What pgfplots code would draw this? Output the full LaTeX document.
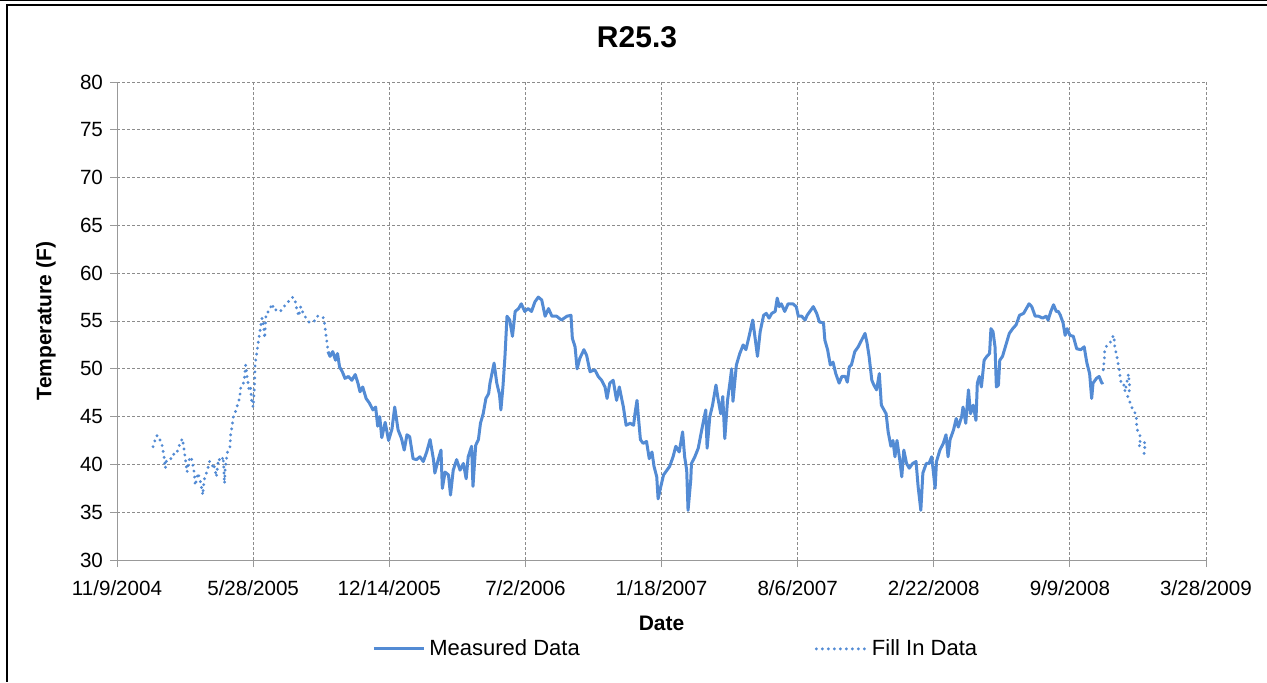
\documentclass[border=0pt]{standalone}
\usepackage{pgfplots}
\pgfplotsset{compat=1.18}
\usepackage{fontspec}
\setmainfont{Liberation Sans}
\definecolor{series}{RGB}{83,139,212}
\definecolor{gridgray}{RGB}{140,140,140}

\begin{document}
\begin{tikzpicture}
\path[use as bounding box] (0,0) rectangle (633.5pt,341pt);
% outer frame (top and left edges only)
\draw[line width=0.6pt] (0,340.7pt) -- (633.5pt,340.7pt);
\draw[line width=1.1pt] (3pt,338.3pt) -- (633.5pt,338.3pt);
\draw[line width=1.1pt] (3.6pt,338.8pt) -- (3.6pt,0);
\node[font=\fontsize{15}{18}\bfseries\selectfont] at (318.5pt,322.5pt) {R25.3};

\begin{axis}[
  at={(58.5pt,61pt)}, anchor=south west,
  scale only axis, width=544.5pt, height=239pt,
  xmin=0, xmax=1600, ymin=30, ymax=80,
  xtick={0,200,...,1600},
  xticklabels={11/9/2004,5/28/2005,12/14/2005,7/2/2006,1/18/2007,8/6/2007,2/22/2008,9/9/2008,3/28/2009},
  ytick={30,35,...,80},
  /pgf/number format/assume math mode=true,
  axis x line*=bottom, axis y line*=left,
  axis line style={gray!80, line width=0.5pt, -},
  tick align=outside, major tick length=3.5pt,
  tick style={gray!80, line width=0.5pt},
  grid=major,
  grid style={gridgray, line width=0.5pt, dash pattern=on 1.5pt off 1pt},
  tick label style={font=\fontsize{10.3}{12}\selectfont},
  xticklabel style={yshift=-3pt},
  xlabel={Date}, ylabel={Temperature (F)},
  xlabel style={font=\fontsize{10.5}{12}\bfseries\selectfont, at={(axis description cs:0.5,-0.132)}, anchor=center},
  ylabel style={font=\fontsize{10.5}{12}\bfseries\selectfont, at={(axis description cs:-0.0652,0.5)}, anchor=center},
  legend columns=2,
  legend style={at={(axis description cs:0.514,-0.186)}, anchor=center, draw=none, fill=none,
    font=\fontsize{11}{13}\selectfont,
    /tikz/every even column/.append style={column sep=115.5pt}},
  legend image code/.code={\draw[#1] (0pt,0pt) -- (25pt,0pt);},
]
% measured data
\addplot[series, line width=1.5pt, line join=round] coordinates {
(310,51.8) (313,51.3) (317,51.8) (321,50.9) (324,51.6) (327,50.2) (331,49.7) (335,49.0)
(340,49.2) (345,48.8) (350,49.4) (354,48.5) (357,47.6) (361,48.1) (366,46.9) (371,46.4)
(376,45.7) (380,46.0) (383,44.0) (386,45.0) (389,42.8) (394,44.4) (399,42.5) (404,43.7)
(408,46.0) (413,43.6) (418,42.7) (422,41.5) (426,43.1) (430,42.9) (435,40.6) (440,40.5)
(445,40.8) (450,40.3) (455,41.3) (460,42.6) (465,40.5) (467,39.1) (472,40.5) (476,41.5)
(478,37.5) (482,39.2) (487,38.9) (490,36.8) (494,39.4) (499,40.5) (504,39.4) (509,40.1)
(513,38.5) (516,40.8) (521,41.9) (523,37.7) (527,42.0) (531,42.6) (534,44.3) (538,45.3)
(542,46.9) (546,47.4) (548,48.5) (552,49.9) (554,50.6) (558,48.5) (562,47.3) (564,45.7)
(567,48.1) (570,51.3) (573,55.5) (577,55.1) (581,53.4) (585,56.0) (590,56.3) (594,56.8)
(599,56.0) (604,56.3) (609,56.0) (614,57.0) (619,57.5) (624,57.2) (629,55.5) (634,56.3)
(639,55.5) (646,55.5) (653,55.1) (661,55.5) (667,55.6) (669,53.2) (673,52.3) (676,50.0)
(680,51.1) (686,52.0) (690,51.4) (695,49.7) (702,49.9) (707,49.2) (712,48.8) (717,48.1)
(720,46.9) (724,48.5) (729,48.8) (734,46.7) (738,48.1) (744,46.0) (748,44.1) (754,44.3)
(759,44.1) (761,45.3) (764,46.7) (766,45.0) (769,42.6) (773,42.2) (778,42.4) (782,40.6)
(786,41.3) (789,39.8) (793,38.7) (795,36.4) (799,37.7) (803,38.9) (808,39.4) (812,39.8)
(817,40.8) (821,41.9) (826,41.3) (831,43.4) (834,40.8) (837,39.4) (839,35.2) (843,38.4)
(844,40.1) (849,40.8) (854,41.7) (858,43.2) (861,44.3) (865,45.7) (867,41.7) (871,45.0)
(875,46.2) (880,48.3) (883,46.9) (887,45.3) (890,47.1) (893,42.7) (897,46.7) (901,48.8)
(903,50.0) (905,46.6) (910,50.4) (915,51.6) (920,52.5) (924,52.0) (929,53.5) (934,55.1)
(937,53.5) (941,51.3) (945,53.9) (950,55.6) (954,55.8) (958,55.3) (962,55.8) (967,56.0)
(970,57.4) (973,56.5) (976,56.8) (981,56.0) (986,56.8) (993,56.8) (998,56.5) (1001,55.5)
(1006,55.5) (1011,55.1) (1014,55.6) (1018,56.0) (1023,56.5) (1028,55.8) (1032,54.9) (1038,54.8)
(1040,53.0) (1044,52.0) (1048,50.4) (1052,50.7) (1056,49.5) (1061,48.5) (1065,49.2) (1070,49.2)
(1073,48.6) (1076,50.2) (1079,50.4) (1084,51.8) (1089,52.3) (1094,53.0) (1099,53.7) (1102,52.7)
(1105,51.3) (1109,48.8) (1112,48.3) (1116,47.8) (1120,49.5) (1123,46.2) (1130,45.3) (1133,43.4)
(1137,41.9) (1140,42.5) (1143,40.8) (1146,42.5) (1150,40.5) (1153,38.7) (1156,41.5) (1160,40.1)
(1164,39.6) (1169,40.1) (1174,40.3) (1177,37.7) (1181,35.2) (1184,39.1) (1189,40.1) (1193,40.1)
(1197,40.8) (1202,37.5) (1204,40.3) (1209,41.5) (1214,42.2) (1218,43.1) (1221,40.8) (1224,42.6)
(1229,43.6) (1233,44.8) (1236,43.9) (1241,45.0) (1243,46.0) (1247,44.3) (1251,47.8) (1254,45.3)
(1258,46.2) (1262,44.6) (1264,48.5) (1267,49.2) (1270,48.1) (1274,50.9) (1278,51.3) (1282,51.6)
(1284,54.2) (1287,53.9) (1290,52.3) (1292,48.1) (1295,48.3) (1297,50.9) (1301,51.3) (1306,52.5)
(1311,53.7) (1316,54.2) (1321,54.6) (1326,55.6) (1332,55.8) (1336,56.3) (1340,56.8) (1344,56.5)
(1349,55.5) (1354,55.5) (1360,55.3) (1365,55.5) (1368,55.1) (1372,56.0) (1376,56.7) (1380,56.0)
(1383,56.0) (1386,55.6) (1390,54.8) (1393,53.5) (1396,54.2) (1400,53.5) (1405,53.4) (1410,52.1)
(1416,52.0) (1421,52.3) (1425,50.6) (1429,49.5) (1432,46.9) (1434,48.5) (1439,49.0) (1443,49.2)
(1447,48.5) (1449,48.6)
};
\addlegendentry{Measured Data}
% fill-in data, first stretch
\addplot[series, line width=1.6pt, line cap=round, dash pattern=on 0pt off 3pt] coordinates {
(53,41.85) (58,43.0) (61,43.0) (64,42.4) (66,42.1) (69,40.9) (71,39.6) (73,40.5)
(77,40.6) (81,40.6) (84,41.2) (88,41.2) (92,42.1) (96,42.7) (98,41.85) (100,40.8)
(103,39.2) (107,40.8) (110,40.5) (113,39.4) (115,37.8) (119,39.1) (122,38.4) (125,37.3)
(126,36.8) (128,38.4) (132,39.2) (136,40.3) (140,39.8) (142,40.1) (146,38.7) (149,40.6)
(153,40.3) (156,40.8) (158,38.0) (159,39.6) (162,41.2) (166,41.85) (167,43.2) (169,43.9)
(171,45.0) (174,45.5) (177,46.2) (180,46.9) (182,48.1) (185,48.3) (187,48.8) (189,50.4)
(191,49.2) (194,47.8) (196,48.1) (198,46.6) (200,46.0) (202,48.1) (203,50.6) (206,51.96)
(208,53.0) (211,54.4) (213,55.3) (215,54.8) (217,53.2) (219,55.8) (223,56.0) (228,56.8)
(231,56.1) (235,56.2) (240,56.0) (245,56.5) (250,56.8) (254,57.3) (259,57.5) (262,57.0)
(264,56.3) (267,55.5) (270,56.5) (274,55.7) (282,54.9) (289,54.9) (294,55.5) (300,55.5)
(304,55.3) (306,54.1) (308,53.0) (310,51.96)
};
\addlegendentry{Fill In Data}
% fill-in data, last stretch
\addplot[series, line width=1.6pt, line cap=round, dash pattern=on 0pt off 3pt, forget plot] coordinates {
(1449,49.9) (1450,50.6) (1451,51.3) (1451,52.0) (1454,52.4) (1458,52.6) (1461,53.0) (1464,53.5)
(1465,53.2) (1466,52.3) (1469,51.3) (1471,50.5) (1473,49.7) (1474,49.0) (1476,48.3) (1480,48.3)
(1481,47.6) (1486,49.45) (1487,48.75) (1488,47.95) (1485,47.1) (1488,46.55) (1491,45.97) (1494,45.5)
(1497,45.3) (1498,44.6) (1498,43.9) (1501,43.2) (1504,42.9) (1503,42.4) (1501,41.9) (1507,42.2)
(1511,42.3) (1509,41.3) (1509,40.7)
};
\end{axis}
\end{tikzpicture}
\end{document}
